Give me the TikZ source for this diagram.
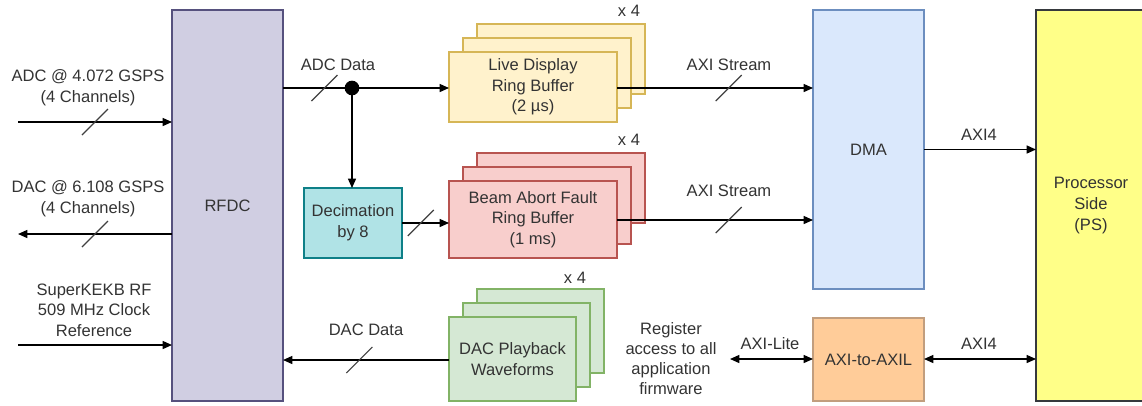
\documentclass[tikz,border=0pt]{standalone}
\usepackage{fontspec}
\setmainfont{Liberation Sans}
\usetikzlibrary{positioning}
\usetikzlibrary{arrows.meta}
\definecolor{rfdcfill}{HTML}{D0CEE2}
\definecolor{rfdcline}{HTML}{56517E}
\definecolor{livefill}{HTML}{FFF2CC}
\definecolor{liveline}{HTML}{D6B656}
\definecolor{bafill}{HTML}{F8CECC}
\definecolor{baline}{HTML}{B85450}
\definecolor{dacfill}{HTML}{D5E8D4}
\definecolor{dacline}{HTML}{82B366}
\definecolor{decfill}{HTML}{B0E3E6}
\definecolor{decline}{HTML}{0E8088}
\definecolor{dmafill}{HTML}{DAE8FC}
\definecolor{dmaline}{HTML}{6C8EBF}
\definecolor{axilfill}{HTML}{FFCC99}
\definecolor{axilline}{HTML}{C29E7E}
\definecolor{psfill}{HTML}{FFFF88}
\definecolor{psline}{HTML}{36393D}
\definecolor{txt}{HTML}{333333}
\tikzset{
    blk/.style = {draw, line width=1pt, inner sep=0pt, outer sep=0pt, align=center, text=txt},
    rfdcbox/.style = {blk, draw=rfdcline, fill=rfdcfill, minimum width=83.25pt, minimum height=293.25pt},
    livebox/.style = {blk, draw=liveline, fill=livefill, minimum width=126pt, minimum height=52.5pt},
    babox/.style = {blk, draw=baline, fill=bafill, minimum width=126pt, minimum height=57.75pt},
    dacbox/.style = {blk, draw=dacline, fill=dacfill, minimum width=95.25pt, minimum height=63pt},
    decbox/.style = {blk, draw=decline, fill=decfill, minimum width=73.5pt, minimum height=52.5pt},
    dmabox/.style = {blk, draw=dmaline, fill=dmafill, minimum width=83.25pt, minimum height=209.25pt},
    axilbox/.style = {blk, draw=axilline, fill=axilfill, minimum width=83.25pt, minimum height=62.25pt},
    psbox/.style = {blk, draw=psline, fill=psfill, minimum width=82.5pt, minimum height=293.25pt},
    lbl/.style = {align=center, text=txt, inner sep=0pt},
    arr/.style = {-{Triangle[length=7pt,width=6pt]}, line width=1pt, black},
    darr/.style = {{Triangle[length=7pt,width=6pt]}-{Triangle[length=7pt,width=6pt]}, line width=1pt, black},
    busslash/.pic = {\draw[-, line width=0.9pt, black!75] (-13,13) -- (13,-13);}
}

\begin{document}
\begin{tikzpicture}[
	x=0.75pt, y=-0.75pt,
	font=\fontsize{12.4}{15.5}\selectfont]
  \useasboundingbox (0,0) rectangle (1142,405);

  % main blocks
  \node (rfdc) at (227.5,205.5) [rfdcbox] {RFDC};
  \node (dma) at (868.5,149.5) [dmabox] {DMA};
  \node (axil) at (868.5,359.5) [axilbox] {AXI-to-AXIL};
  \node (ps) at (1091,205.5) [psbox] {Processor\\Side\\(PS)};
  \node (dec) at (353,223) [decbox] {Decimation\\by 8};

  % stacked buffers
  \node (live3) at (561,59) [livebox] {};
  \node (live2) at (547,73) [livebox] {};
  \node (live1) at (533,87) [livebox] {Live Display\\Ring Buffer\\(2 µs)};
  \node (ba3) at (561,188) [babox, minimum height=52.5pt] {};
  \node (ba2) at (547,205.5) [babox] {};
  \node (ba1) at (533,219.5) [babox] {Beam Abort Fault\\Ring Buffer\\(1 ms)};
  \node (dac3) at (540.5,331) [dacbox] {};
  \node (dac2) at (526.5,345) [dacbox] {};
  \node (dac1) at (512.5,359) [dacbox] {DAC Playback\\Waveforms};
  \node (livex) at (629,11) [lbl] {x 4};
  \node (bax) at (629,140) [lbl] {x 4};
  \node (dacx) at (575,278) [lbl] {x 4};

  % labels
  \node (adclbl) at (88,87.5) [lbl] {ADC @ 4.072 GSPS\\(4 Channels)};
  \node (daclbl) at (88,199) [lbl] {DAC @ 6.108 GSPS\\(4 Channels)};
  \node (clklbl) at (94,310) [lbl] {SuperKEKB RF\\509 MHz Clock\\Reference};
  \node (adcdata) at (338,65) [lbl] {ADC Data};
  \node (dacdata) at (366,330) [lbl] {DAC Data};
  \node (axis1) at (729,65) [lbl] {AXI Stream};
  \node (axis2) at (729,191) [lbl] {AXI Stream};
  \node (axi4a) at (979,135) [lbl] {AXI4};
  \node (axi4b) at (979,344) [lbl] {AXI4};
  \node (axilite) at (770,344) [lbl] {AXI-Lite};
  \node (reglbl) at (671,359) [lbl, font=\fontsize{12.4}{15}\selectfont] {Register\\access to all\\application\\firmware};

  % connectors
  \coordinate (adcin) at (18,122);
  \coordinate (dacout) at (18,234);
  \coordinate (clkin) at (18,345);
  \coordinate (regend) at (730,359);
  \node (dot) at (352,88) [circle, fill=black, inner sep=0pt, minimum size=11pt] {};

  \draw[arr] (adcin) -- pic[pos=0.5]{busslash} (adcin -| rfdc.west);
  \draw[arr] (dacout -| rfdc.west) -- pic[pos=0.5]{busslash} (dacout);
  \draw[arr] (clkin) -- (clkin -| rfdc.west);
  \draw[line width=1pt] (dot -| rfdc.east) -- pic[pos=0.6]{busslash} (dot.center);
  \draw[arr] (dot.center) -- (live1.west |- dot);
  \draw[arr] (dot.center) -- (dec.north -| dot);
  \draw[arr] (dec.east) -- pic[pos=0.4]{busslash} (dec.east -| ba1.west);
  \draw[arr] (live1.east |- dot) -- pic[pos=0.57]{busslash} (dma.west |- dot);
  \draw[arr] (ba1.east |- 0,220) -- pic[pos=0.57]{busslash} (dma.west |- 0,220);
  \draw[arr] (dma.east) -- (ps.west |- dma.east);
  \draw[arr] (dac1.west |- 0,360) -- pic[pos=0.54]{busslash} (rfdc.east |- 0,360);
  \draw[darr] (regend) -- (axil.west |- regend);
  \draw[darr] (axil.east |- regend) -- (ps.west |- regend);
\end{tikzpicture}
\end{document}
